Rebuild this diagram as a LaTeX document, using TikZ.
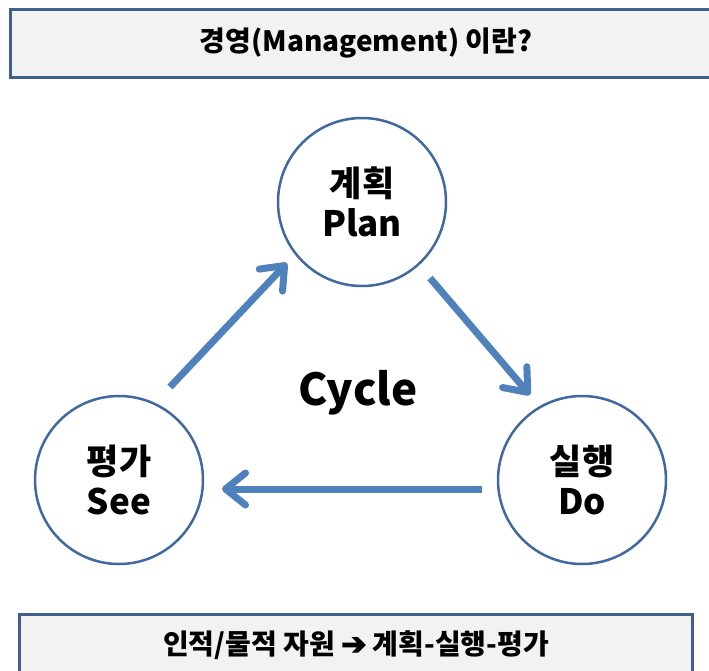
\documentclass[tikz,border=0pt]{standalone}
\usepackage{fontspec}
\setmainfont{Noto Sans CJK KR}
\newfontfamily\symfont{DejaVu Sans}[FakeBold=4]
\usetikzlibrary{arrows.meta}
\definecolor{arrowblue}{HTML}{4F81BD}
\definecolor{ringblue}{HTML}{41699E}
\definecolor{boxline}{HTML}{3F5F8F}
\definecolor{boxfill}{HTML}{F2F2F2}
\begin{document}
\begin{tikzpicture}[x=1pt,y=-1pt,
  ring/.style={circle, draw=ringblue, line width=2.5pt, minimum size=168pt, inner sep=0pt, align=center, font=\fontsize{35}{40}\selectfont\bfseries},
  banner/.style={draw=boxline, fill=boxfill, line width=3pt, inner sep=0pt},
  bannertext/.style={font=\fontsize{28}{32}\selectfont\bfseries},
  flow/.style={draw=arrowblue, line width=7pt, -{Straight Barb[length=20pt,width=32pt,round]}}]
\useasboundingbox (0,0) rectangle (709,670);
\node[banner, bannertext, minimum width=712pt, minimum height=68pt] (title) at (366,43) {경영(Management) 이란?};
\node[banner, minimum width=673pt, minimum height=70pt] (foot) at (355.5,649) {};
\node[bannertext] (foottext) at (356,645) {인적/물적 자원 {\symfont\fontsize{30}{32}\selectfont ➔} 계획-실행-평가};
\node[ring] (plan) at (362,202) {계획\\Plan};
\node[ring] (see) at (119,480) {평가\\See};
\node[ring] (do) at (582,480) {실행\\Do};
\node[font=\fontsize{44}{48}\selectfont\bfseries, anchor=base] (cycle) at (358,405) {Cycle};
\draw[flow] ([shift={(51,-93)}]see.center) -- ([shift={(-75,61)}]plan.center);
\draw[flow] ([shift={(68,76)}]plan.center) -- ([shift={(-52,-85)}]do.center);
\draw[flow] ([shift={(-100,9)}]do.center) -- ([shift={(103,9)}]see.center);
\end{tikzpicture}
\end{document}
